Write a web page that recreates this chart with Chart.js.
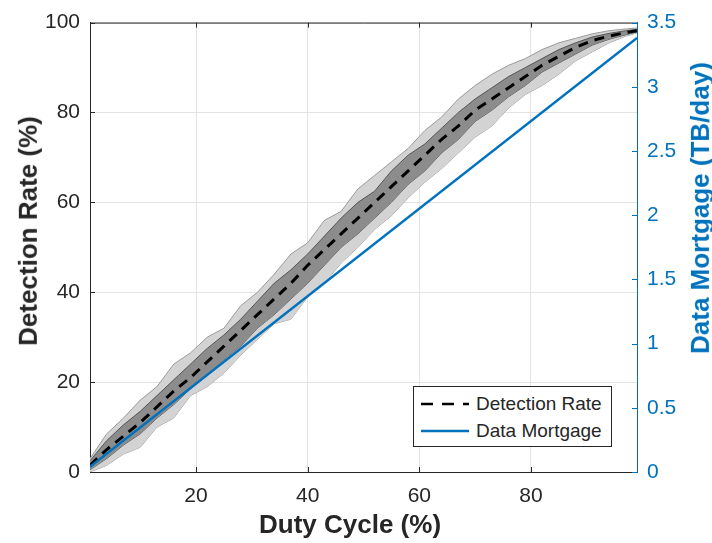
<!DOCTYPE html>
<html>
<head>
<meta charset="utf-8">
<script src="https://cdn.jsdelivr.net/npm/chart.js@4.4.1/dist/chart.umd.min.js"></script>
<style>
  html, body { margin: 0; padding: 0; background: #fff; }
  #wrap { position: relative; width: 712px; height: 543px; font-family: "Liberation Sans", Arial, sans-serif; }
  #legend {
    position: absolute; left: 413px; top: 386px; width: 197px; height: 59px;
    border: 1px solid #262626; background: #fff;
    font-size: 19px; color: #262626;
  }
  .row { position: absolute; left: 0; height: 24px; display: flex; align-items: center; white-space: nowrap; }
  .row svg { margin-left: 6px; margin-right: 7px; }
  .title { position: absolute; font-weight: bold; font-size: 26px; white-space: nowrap; line-height: 30px; }
</style>
</head>
<body>
<div id="wrap">
  <canvas id="chart" width="712" height="543"></canvas>
  <div id="legend">
    <div class="row" style="top:5px">
      <svg width="49" height="6"><line x1="1" y1="3" x2="49" y2="3" stroke="#000" stroke-width="2.5" stroke-dasharray="12 9"/></svg>
      <span>Detection Rate</span>
    </div>
    <div class="row" style="top:32px">
      <svg width="49" height="6"><line x1="1" y1="3" x2="49" y2="3" stroke="#0072BD" stroke-width="2.5"/></svg>
      <span>Data Mortgage</span>
    </div>
  </div>
  <div class="title" id="xt" style="color:#262626">Duty Cycle (%)</div>
  <div class="title" id="yt" style="color:#262626">Detection Rate (%)</div>
  <div class="title" id="y2t" style="color:#0072BD">Data Mortgage (TB/day)</div>
</div>
<script>
// duty cycle samples (%)
const dutyCycle = [1, 4, 7, 10, 13, 16, 19, 22, 25, 28, 31, 34, 37, 40, 43, 46, 49, 52, 55, 58, 61, 64, 67, 70, 73, 76, 79, 82, 85, 88, 91, 94, 97, 99];

// detection rate (%) - mean and spread bands
const detMean  = [1.5, 5, 8, 11, 14.5, 18, 21, 24.5, 28, 31.5, 35, 38.5, 42, 46, 49.5, 53, 56.5, 60, 63.5, 67, 70.5, 74, 77, 80.5, 83, 85.5, 88, 90.5, 92.5, 94.5, 96, 97, 97.8, 98.2];
const innerLo  = [0.5, 3, 6, 8.5, 12, 15, 18.5, 21.5, 25, 28, 32, 35, 38.5, 42, 46, 50, 53, 56.5, 60, 64, 67, 71, 74, 78, 80.5, 83.5, 86, 89, 91, 93, 95, 96.3, 97.3, 97.9];
const innerHi  = [2.5, 7, 10.5, 13.5, 17, 20.5, 24, 27.5, 30.5, 34, 38, 42, 45, 48.5, 52.5, 56.5, 60, 62.5, 67, 70.5, 73, 76.5, 80, 83, 85.5, 88, 90, 92, 94, 95.5, 96.8, 97.6, 98.2, 98.5];
const outerLo  = [0, 1.5, 4, 5.5, 10, 12, 17, 19, 22, 26, 29.5, 33, 34, 39, 42, 46.5, 50, 54, 57, 61, 64.5, 67.5, 71, 74.5, 77, 81, 84, 86, 88.5, 91.5, 93.5, 95.5, 97, 97.7];
const outerHi  = [3, 8.5, 12, 16, 19, 24, 26.5, 30, 32, 37, 40, 44, 48.5, 51, 56, 58, 63, 66, 69, 72, 76, 79, 83, 86, 88.5, 90.5, 92, 94, 95.5, 96.5, 97.5, 98.2, 98.6, 98.8];

// data mortgage (TB/day)
const mortgageX = [1, 99];
const mortgage  = [0.04, 3.38];

const xTicks = [20, 40, 60, 80];

const pts = (ys) => dutyCycle.map((x, i) => ({ x: x, y: ys[i] }));

const FONT = "'Liberation Sans', Arial, sans-serif";
const TEXT = "#262626";
const BLUE = "#0072BD";

// axis titles placed as html text
function placeTitles() {
  const xt = document.getElementById("xt");
  xt.style.left = (350 - xt.offsetWidth / 2) + "px";
  xt.style.top = (524 - 15) + "px";
  const yt = document.getElementById("yt");
  yt.style.left = (28 - yt.offsetWidth / 2) + "px";
  yt.style.top = (231 - 15) + "px";
  yt.style.transform = "rotate(-90deg)";
  const y2t = document.getElementById("y2t");
  y2t.style.left = (700 - y2t.offsetWidth / 2) + "px";
  y2t.style.top = (208 - 15) + "px";
  y2t.style.transform = "rotate(-90deg)";
}
placeTitles();

// inward tick marks and top border, like the original plot
const frame = {
  id: "frame",
  afterDatasetsDraw(chart) {
    const { ctx, chartArea: a, scales } = chart;
    ctx.save();
    ctx.lineWidth = 1;
    ctx.strokeStyle = TEXT;
    ctx.beginPath();
    ctx.moveTo(a.left, a.top + 0.5);
    ctx.lineTo(a.right, a.top + 0.5);
    ctx.stroke();
    ctx.beginPath();
    xTicks.forEach((v) => {
      const px = Math.round(scales.x.getPixelForValue(v)) + 0.5;
      ctx.moveTo(px, a.bottom); ctx.lineTo(px, a.bottom - 5);
      ctx.moveTo(px, a.top); ctx.lineTo(px, a.top + 5);
    });
    scales.y.ticks.forEach((t) => {
      const py = Math.round(scales.y.getPixelForValue(t.value)) + 0.5;
      ctx.moveTo(a.left, py); ctx.lineTo(a.left + 5, py);
    });
    ctx.stroke();
    ctx.strokeStyle = BLUE;
    ctx.beginPath();
    scales.y2.ticks.forEach((t) => {
      const py = Math.round(scales.y2.getPixelForValue(t.value)) + 0.5;
      ctx.moveTo(a.right, py); ctx.lineTo(a.right - 5, py);
    });
    ctx.stroke();
    ctx.restore();
  },
};

// datasets listed top-most first: Chart.js paints the last one first
new Chart(document.getElementById("chart"), {
  type: "line",
  data: {
    datasets: [
      {
        data: mortgageX.map((x, i) => ({ x: x, y: mortgage[i] })),
        borderColor: BLUE, borderWidth: 2.5, pointRadius: 0, fill: false, yAxisID: "y2",
      },
      { data: pts(detMean), borderColor: "#000000", borderWidth: 3, borderDash: [10, 7], pointRadius: 0, fill: false, yAxisID: "y" },
      { data: pts(innerHi), borderColor: "#555555", borderWidth: 1, pointRadius: 0, fill: "+1", backgroundColor: "#8c8c8c", yAxisID: "y" },
      { data: pts(innerLo), borderColor: "#555555", borderWidth: 1, pointRadius: 0, fill: false, yAxisID: "y" },
      { data: pts(outerHi), borderColor: "#9a9a9a", borderWidth: 1, pointRadius: 0, fill: "+1", backgroundColor: "#d3d3d3", yAxisID: "y" },
      { data: pts(outerLo), borderColor: "#9a9a9a", borderWidth: 1, pointRadius: 0, fill: false, yAxisID: "y" },
    ],
  },
  options: {
    responsive: false,
    animation: false,
    layout: { padding: { top: 17, left: 0, right: 0, bottom: 0 } },
    plugins: { legend: { display: false }, tooltip: { enabled: false } },
    scales: {
      x: {
        type: "linear",
        min: 1,
        max: 99,
        afterBuildTicks: (s) => { s.ticks = xTicks.map((v) => ({ value: v })); },
        afterFit: (s) => { s.height = 71; },
        grid: { color: "#e3e3e3", drawTicks: false },
        border: { color: TEXT, width: 1 },
        ticks: { color: TEXT, font: { family: FONT, size: 21 }, padding: 12, maxRotation: 0 },
      },
      y: {
        position: "left",
        min: 0,
        max: 100,
        ticks: { stepSize: 20, color: TEXT, font: { family: FONT, size: 21 }, padding: 10 },
        afterFit: (s) => { s.width = 90; },
        grid: { color: "#e3e3e3", drawTicks: false },
        border: { color: TEXT, width: 1 },
      },
      y2: {
        position: "right",
        min: 0,
        max: 3.5,
        ticks: {
          stepSize: 0.5, color: BLUE, font: { family: FONT, size: 21 }, padding: 10,
          callback: (v) => String(v),
        },
        afterFit: (s) => { s.width = 75; },
        grid: { display: false, drawTicks: false },
        border: { color: BLUE, width: 1 },
      },
    },
  },
  plugins: [frame],
});
</script>
</body>
</html>
